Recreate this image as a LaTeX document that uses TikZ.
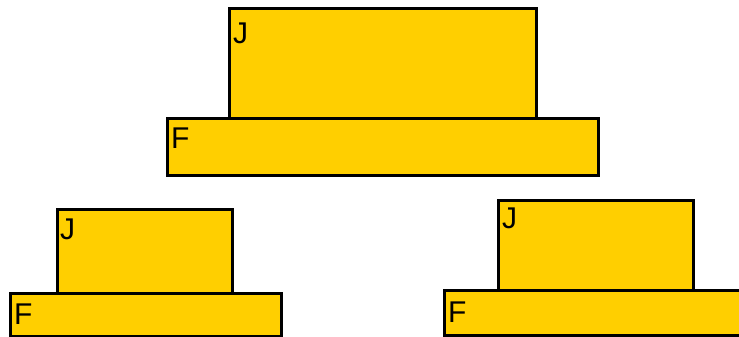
\documentclass[tikz,border=0pt]{standalone}
\usepackage{fontspec}
\setmainfont{Liberation Sans}
\definecolor{gold}{HTML}{FFCF00}
\tikzset{
  box/.style={draw=black, fill=gold, line width=2.6pt, rectangle, inner sep=0pt, anchor=north west},
  lab/.style={inner sep=0pt, anchor=north west, font=\fontsize{30}{33}\selectfont}
}
\begin{document}
\begin{tikzpicture}[x=1pt,y=-1pt]
\clip (0,0) rectangle (739,337);
\fill[white] (0,0) rectangle (739,337);
% top group
\node[box, minimum width=307pt, minimum height=110pt] (j1) at (228,7) {};
\node[box, minimum width=431pt, minimum height=57pt] (f1) at (166,117) {};
\node[lab] (lj1) at ([shift={(5pt,-16pt)}]j1.north west) {J};
\node[lab] (lf1) at ([shift={(5pt,-11pt)}]f1.north west) {F};
% bottom left
\node[box, minimum width=175pt, minimum height=84pt] (j2) at (56,208) {};
\node[box, minimum width=271pt, minimum height=43pt] (f2) at (9,292) {};
\node[lab] (lj2) at ([shift={(4pt,-11pt)}]j2.north west) {J};
\node[lab] (lf2) at ([shift={(5pt,-12pt)}]f2.north west) {F};
% bottom right
\node[box, minimum width=195pt, minimum height=90pt] (j3) at (497,199) {};
\node[box, minimum width=310pt, minimum height=45pt] (f3) at (443,289) {};
\node[lab] (lj3) at ([shift={(5pt,-9pt)}]j3.north west) {J};
\node[lab] (lf3) at ([shift={(5pt,-13pt)}]f3.north west) {F};
\end{tikzpicture}
\end{document}
